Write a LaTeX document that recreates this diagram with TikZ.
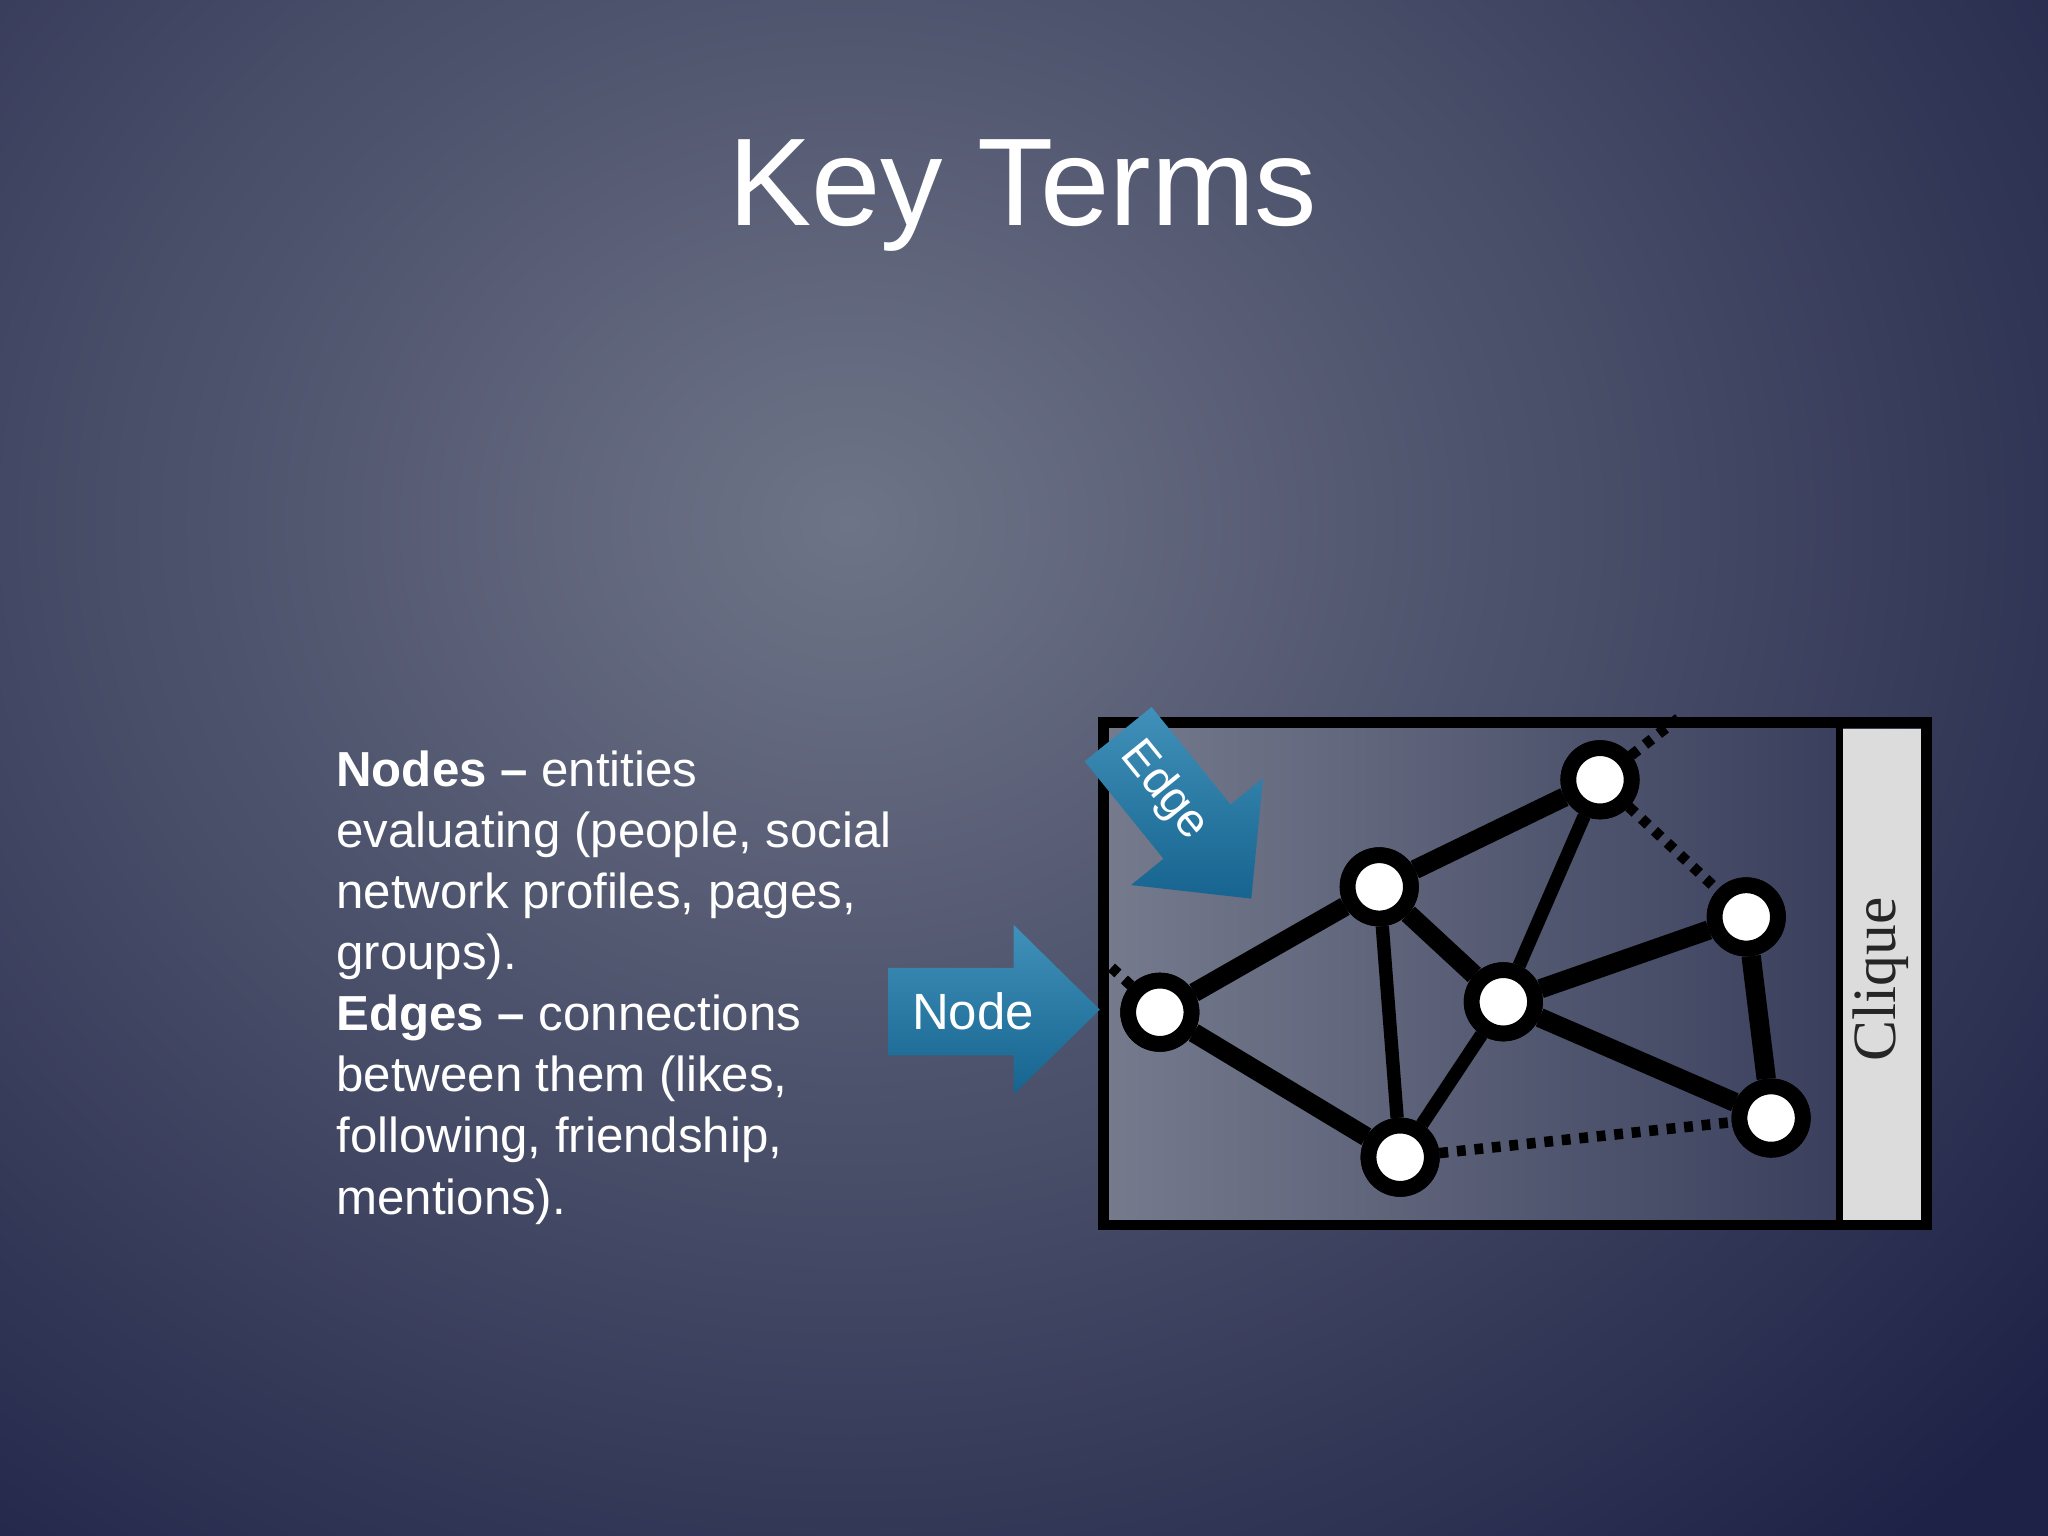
\documentclass[tikz,border=0pt]{standalone}
\usepackage{fontspec}
\setmainfont{Liberation Sans}
\newfontfamily\cliquefont{Liberation Serif}
\definecolor{bgin}{HTML}{6E7487}
\definecolor{bgout}{HTML}{1E2246}
\definecolor{arrowc}{HTML}{1E7DAE}
\definecolor{arrowd}{HTML}{16648F}
\definecolor{panel}{HTML}{DCDCDC}
\begin{document}
\begin{tikzpicture}[x=0.013061cm,y=-0.013061cm,
  vert/.style={circle,draw=black,fill=white,line width=4.5pt,minimum size=18pt,inner sep=0pt},
  edgeline/.style={line width=5.5pt,black},
  thinedge/.style={line width=3.8pt,black},
  dotline/.style={line width=3pt,black,dash pattern=on 2.5pt off 2.5pt},
  bluearrow/.style={top color=arrowc!85!white,bottom color=arrowd,draw=none},
  wtext/.style={text=white,inner sep=0pt}]
\useasboundingbox (0,0) rectangle (1568,1176);
\shade[inner color=bgin,outer color=bgout] (-550,-650) rectangle (1850,1450);
\node[wtext,font=\fontsize{35.5}{40}\selectfont] (title) at (783,150) {Key Terms};
\node[wtext,anchor=north west,align=left,font=\fontsize{14}{17.4}\selectfont] (body) at (257,574)
 {\textbf{Nodes --} entities\\evaluating (people, social\\network profiles, pages,\\groups).\\\textbf{Edges --} connections\\between them (likes,\\following, friendship,\\mentions).};
% box
\shade[left color=bgin!95!white,right color=bgout!65!bgin] (845,553) rectangle (1408,938);
\fill[panel] (1408,558) rectangle (1472,934);
\draw[line width=3pt,black] (845,553) rectangle (1475,938);
\draw[line width=2pt,black] (1408,553) -- (1408,938);
\node[rotate=90,font=\cliquefont\fontsize{17.5}{20}\selectfont,text=black!85] (clq) at (1440,750) {Clique};
% vertices
\node[vert] (a) at (888,775) {};
\node[vert] (b) at (1056,679) {};
\node[vert] (c) at (1225,597) {};
\node[vert] (d) at (1151,767) {};
\node[vert] (e) at (1337,702) {};
\node[vert] (f) at (1356,856) {};
\node[vert] (g) at (1072,886) {};
\coordinate (ct) at (1285,550);
\coordinate (al) at (848,738);
\draw[dotline] (g) -- (f);
\draw[dotline] (c) -- (e);
\draw[dotline] (c) -- (ct);
\draw[dotline] (a) -- (al);
\draw[edgeline] (a) -- (b);
\draw[edgeline] (a) -- (g);
\draw[edgeline] (b) -- (c);
\draw[edgeline] (b) -- (d);
\draw[thinedge] (b) -- (g);
\draw[thinedge] (c) -- (d);
\draw[thinedge] (d) -- (g);
\draw[edgeline] (d) -- (e);
\draw[edgeline] (d) -- (f);
\draw[edgeline] (e) -- (f);
\foreach \v in {a,b,c,d,e,f,g}
  \node[vert] at (\v) {};
% Node arrow
\path[bluearrow] (680,741) -- (776,741) -- (776,708) -- (842,773) -- (776,838) -- (776,808) -- (680,808) -- cycle;
\node[wtext,font=\fontsize{14.5}{16}\selectfont] (nodelbl) at (745,774) {Node};
% Edge arrow
\begin{scope}[shift={(958,688)},rotate=-51]
\path[bluearrow] (-162,-33) -- (-66,-33) -- (-66,-65) -- (0,0) -- (-66,65) -- (-66,33) -- (-162,33) -- cycle;
\node[wtext,font=\fontsize{13.5}{16}\selectfont,transform shape] (edgelbl) at (-106,0) {Edge};
\end{scope}
\end{tikzpicture}
\end{document}
